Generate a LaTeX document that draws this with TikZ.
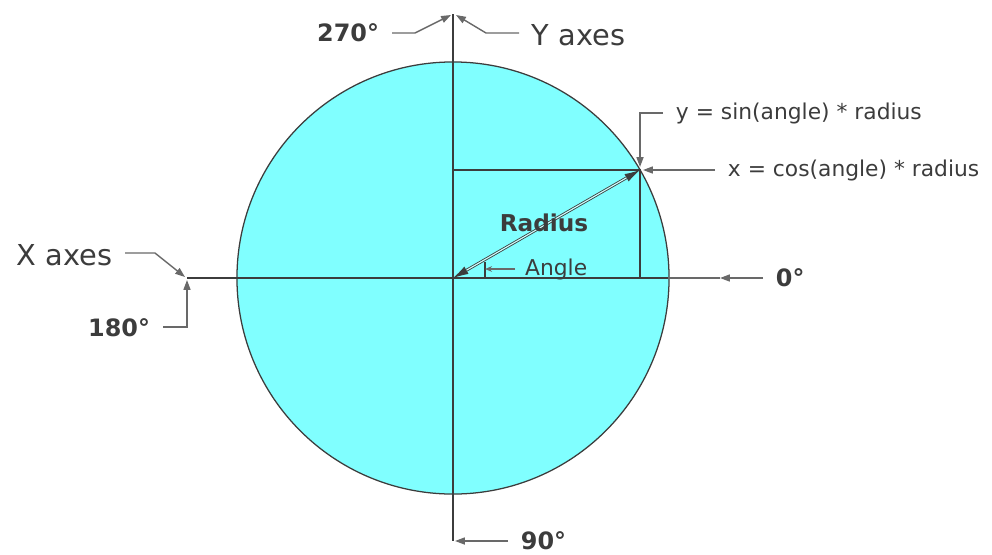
\documentclass[tikz,border=0pt]{standalone}
\usepackage{fontspec}
\setmainfont{DejaVu Sans}
\usetikzlibrary{arrows.meta, positioning, calc}
\definecolor{mycyan}{RGB}{128,255,255}
\definecolor{mydark}{RGB}{60,60,60}
\definecolor{mygray}{RGB}{105,105,105}
\tikzset{
  axisline/.style={line width=0.9pt, color=mydark},
  leader/.style={-{Triangle[length=7pt, width=5pt]}, line width=1pt, color=mygray},
  smalllbl/.style={font=\fontsize{15.5}{18}\selectfont, text=mydark, inner xsep=9pt, inner ysep=1pt},
  axislbl/.style={font=\fontsize{20.5}{22}\selectfont, text=mydark, inner xsep=9pt, inner ysep=1pt},
  deglbl/.style={font=\fontsize{17}{19}\selectfont\bfseries, text=mydark, inner xsep=9pt, inner ysep=1pt},
  radarrow/.style={{Latex[length=11pt, width=6pt]}-{Latex[length=11pt, width=6pt]},
    draw=mydark, double=mycyan!40!white, double distance=0.8pt, line width=0.6pt}
}

\begin{document}
\begin{tikzpicture}[x=0.025cm, y=-0.025cm]
  \useasboundingbox (0,0) rectangle (992,554);

  % Points
  \coordinate (O) at (453,278);
  \coordinate (P) at (640,170);
  \coordinate (ytop) at (453,14);
  \coordinate (ybot) at (453,541);
  \coordinate (xleft) at (187,278);
  \coordinate (xright) at (668,278);
  \coordinate (Py) at (453,170);
  \coordinate (Px) at (640,278);

  % Circle and axes
  \draw[fill=mycyan, draw=mydark, line width=0.9pt] (O) circle[radius=5.4cm];
  \draw[axisline] (ytop) -- (ybot);
  \draw[axisline] (xleft) -- (xright);
  \draw[axisline] (Py) -- (P) -- (Px);
  \draw[axisline] (485,262) coordinate (tick) -- (485,278);
  \draw[radarrow] (P) -- (O);

  % Labels
  \node[deglbl, anchor=east] (l270) at (392,33) {270°};
  \node[axislbl, anchor=west] (yax) at (519,35) {Y axes};
  \node[axislbl, anchor=east] (xax) at (125,255) {X axes};
  \node[deglbl, anchor=east] (l180) at (163,328) {180°};
  \node[deglbl, anchor=west] (l90) at (508,541) {90°};
  \node[deglbl, anchor=west] (l0) at (763,278) {0°};
  \node[smalllbl, anchor=west] (sinlbl) at (663,113) {y = sin(angle) * radius};
  \node[smalllbl, anchor=west] (coslbl) at (715,170) {x = cos(angle) * radius};
  \node[smalllbl, anchor=west, inner xsep=7pt] (anglbl) at (515,269) {Angle};
  \node[font=\fontsize{16.5}{18}\selectfont\bfseries, text=mydark] (radlbl) at (544,223) {Radius};

  % Leaders
  \draw[leader] (l270.east |- 0,33) -- ++(23,0) -- ($(ytop)+(-2,1)$);
  \draw[leader] (yax.west |- 0,33) -- ++(-33,0) -- ($(ytop)+(3,1)$);
  \draw[leader] (xax.east |- 0,253) -- ++(30,0) -- ($(xleft)+(-2,-1)$);
  \draw[leader] (l180.east |- 0,327) -- ++(24,0) -- ($(xleft)+(0,2)$);
  \draw[leader] (l90.west) -- ($(ybot)+(2,0)$);
  \draw[leader] (l0.west) -- (720,278);
  \draw[line width=1pt, color=mygray] (720,278) -- (xright);
  \draw[leader] (sinlbl.west) -- ++(-23,0) -- ($(P)+(0,-3)$);
  \draw[leader] (coslbl.west) -- ($(P)+(3,0)$);
  \draw[leader, -{Stealth[length=5pt, width=4pt]}] (anglbl.west) -- (tick |- anglbl.west);
\end{tikzpicture}
\end{document}
